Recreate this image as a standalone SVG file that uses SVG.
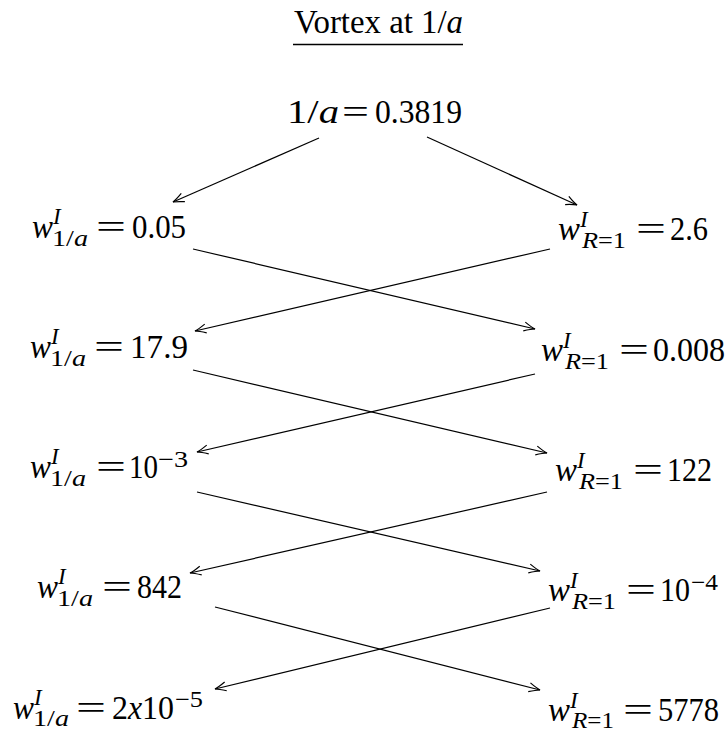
<svg xmlns="http://www.w3.org/2000/svg" width="728" height="733" viewBox="0 0 728 733">
<style>
text{font-family:"Liberation Serif","Times New Roman",serif;fill:#000}
.m{font-size:33px}
.s{font-size:23px}
.i{font-style:italic}
.c{stroke:#000;stroke-width:1.2;fill:none}
</style>
<defs>
<marker id="ah" viewBox="-12 -7 14 14" markerWidth="14" markerHeight="14" refX="0" refY="0" orient="auto" markerUnits="userSpaceOnUse">
<path d="M-11,-4.5 Q-4,-1 0,0 Q-4,1 -11,4.5" fill="none" stroke="#000" stroke-width="1.2"/>
</marker>
</defs>
<rect width="728" height="733" fill="#fff"/>
<g id="title">
<text class="m" x="294" y="33" textLength="169" lengthAdjust="spacingAndGlyphs">Vortex at 1/<tspan class="i">a</tspan></text>
<line x1="293" y1="44.5" x2="463" y2="44.5" stroke="#000" stroke-width="1.3"/>
</g>
<g id="top">
<text class="m" x="287" y="123" textLength="52" lengthAdjust="spacingAndGlyphs">1/<tspan class="i">a</tspan></text>
<text class="m" x="342" y="123" textLength="27" lengthAdjust="spacingAndGlyphs">=</text>
<text class="m" x="375" y="123" textLength="87" lengthAdjust="spacingAndGlyphs">0.3819</text>
</g>
<g id="L1">
<text class="m i" x="32" y="238" textLength="21" lengthAdjust="spacingAndGlyphs">w</text>
<text class="s i" x="53" y="224">I</text>
<text class="s" x="52" y="246" textLength="36" lengthAdjust="spacingAndGlyphs">1/<tspan class="i">a</tspan></text>
<text class="m" x="96" y="238" textLength="30" lengthAdjust="spacingAndGlyphs">=</text>
<text class="m" x="132" y="238" textLength="54" lengthAdjust="spacingAndGlyphs">0.05</text>
</g>
<g id="R1">
<text class="m i" x="558" y="240" textLength="22" lengthAdjust="spacingAndGlyphs">w</text>
<text class="s i" x="580" y="227">I</text>
<text class="s" x="582" y="248"  textLength="44" lengthAdjust="spacingAndGlyphs"><tspan class="i">R</tspan>=1</text>
<text class="m" x="636" y="240" textLength="30" lengthAdjust="spacingAndGlyphs">=</text>
<text class="m" x="670" y="240" textLength="38" lengthAdjust="spacingAndGlyphs">2.6</text>
</g>
<g id="L2">
<text class="m i" x="30" y="358" textLength="21" lengthAdjust="spacingAndGlyphs">w</text>
<text class="s i" x="51" y="344">I</text>
<text class="s" x="50" y="366" textLength="36" lengthAdjust="spacingAndGlyphs">1/<tspan class="i">a</tspan></text>
<text class="m" x="94" y="358" textLength="30" lengthAdjust="spacingAndGlyphs">=</text>
<text class="m" x="130" y="358" textLength="58" lengthAdjust="spacingAndGlyphs">17.9</text>
</g>
<g id="R2">
<text class="m i" x="541" y="361" textLength="22" lengthAdjust="spacingAndGlyphs">w</text>
<text class="s i" x="563" y="348">I</text>
<text class="s" x="565" y="369" textLength="44" lengthAdjust="spacingAndGlyphs"><tspan class="i">R</tspan>=1</text>
<text class="m" x="619" y="361" textLength="30" lengthAdjust="spacingAndGlyphs">=</text>
<text class="m" x="653" y="361" textLength="72" lengthAdjust="spacingAndGlyphs">0.008</text>
</g>
<g id="L3">
<text class="m i" x="30" y="478" textLength="21" lengthAdjust="spacingAndGlyphs">w</text>
<text class="s i" x="51" y="464">I</text>
<text class="s" x="50" y="486" textLength="36" lengthAdjust="spacingAndGlyphs">1/<tspan class="i">a</tspan></text>
<text class="m" x="96" y="478" textLength="30" lengthAdjust="spacingAndGlyphs">=</text>
<text class="m" x="129" y="478" textLength="29" lengthAdjust="spacingAndGlyphs">10</text>
<text class="s" x="158" y="467" textLength="30" lengthAdjust="spacingAndGlyphs">−3</text>
</g>
<g id="R3">
<text class="m i" x="555" y="481" textLength="22" lengthAdjust="spacingAndGlyphs">w</text>
<text class="s i" x="577" y="468">I</text>
<text class="s" x="579" y="489" textLength="44" lengthAdjust="spacingAndGlyphs"><tspan class="i">R</tspan>=1</text>
<text class="m" x="633" y="481" textLength="30" lengthAdjust="spacingAndGlyphs">=</text>
<text class="m" x="667" y="481" textLength="45" lengthAdjust="spacingAndGlyphs">122</text>
</g>
<g id="L4">
<text class="m i" x="37" y="598" textLength="21" lengthAdjust="spacingAndGlyphs">w</text>
<text class="s i" x="58" y="584">I</text>
<text class="s" x="57" y="606" textLength="36" lengthAdjust="spacingAndGlyphs">1/<tspan class="i">a</tspan></text>
<text class="m" x="102" y="598" textLength="30" lengthAdjust="spacingAndGlyphs">=</text>
<text class="m" x="137" y="598" textLength="45" lengthAdjust="spacingAndGlyphs">842</text>
</g>
<g id="R4">
<text class="m i" x="548" y="601" textLength="22" lengthAdjust="spacingAndGlyphs">w</text>
<text class="s i" x="570" y="588">I</text>
<text class="s" x="572" y="609" textLength="44" lengthAdjust="spacingAndGlyphs"><tspan class="i">R</tspan>=1</text>
<text class="m" x="626" y="601" textLength="30" lengthAdjust="spacingAndGlyphs">=</text>
<text class="m" x="660" y="601" textLength="30" lengthAdjust="spacingAndGlyphs">10</text>
<text class="s" x="691" y="590" textLength="27" lengthAdjust="spacingAndGlyphs">−4</text>
</g>
<g id="L5">
<text class="m i" x="13" y="719" textLength="21" lengthAdjust="spacingAndGlyphs">w</text>
<text class="s i" x="34" y="705">I</text>
<text class="s" x="33" y="726" textLength="36" lengthAdjust="spacingAndGlyphs">1/<tspan class="i">a</tspan></text>
<text class="m" x="76" y="719" textLength="30" lengthAdjust="spacingAndGlyphs">=</text>
<text class="m" x="112" y="719" textLength="62" lengthAdjust="spacingAndGlyphs">2<tspan class="i">x</tspan>10</text>
<text class="s" x="175" y="707" textLength="28" lengthAdjust="spacingAndGlyphs">−5</text>
</g>
<g id="R5">
<text class="m i" x="548" y="721" textLength="22" lengthAdjust="spacingAndGlyphs">w</text>
<text class="s i" x="570" y="708">I</text>
<text class="s" x="572" y="728" textLength="42" lengthAdjust="spacingAndGlyphs"><tspan class="i">R</tspan>=1</text>
<text class="m" x="623" y="721" textLength="30" lengthAdjust="spacingAndGlyphs">=</text>
<text class="m" x="658" y="721" textLength="61" lengthAdjust="spacingAndGlyphs">5778</text>
</g>
<g id="connectors" class="c">
<line x1="319" y1="138" x2="173" y2="202" marker-end="url(#ah)"/>
<line x1="427" y1="137" x2="577" y2="205" marker-end="url(#ah)"/>
<line x1="193" y1="249" x2="535" y2="329" marker-end="url(#ah)"/>
<line x1="550" y1="249" x2="195" y2="331" marker-end="url(#ah)"/>
<line x1="193" y1="370" x2="547" y2="453" marker-end="url(#ah)"/>
<line x1="535" y1="374" x2="197" y2="452" marker-end="url(#ah)"/>
<line x1="197" y1="492" x2="540" y2="571" marker-end="url(#ah)"/>
<line x1="547" y1="492" x2="190" y2="573" marker-end="url(#ah)"/>
<line x1="215" y1="607" x2="540" y2="690" marker-end="url(#ah)"/>
<line x1="550" y1="608" x2="215" y2="689" marker-end="url(#ah)"/>
</g>
</svg>
